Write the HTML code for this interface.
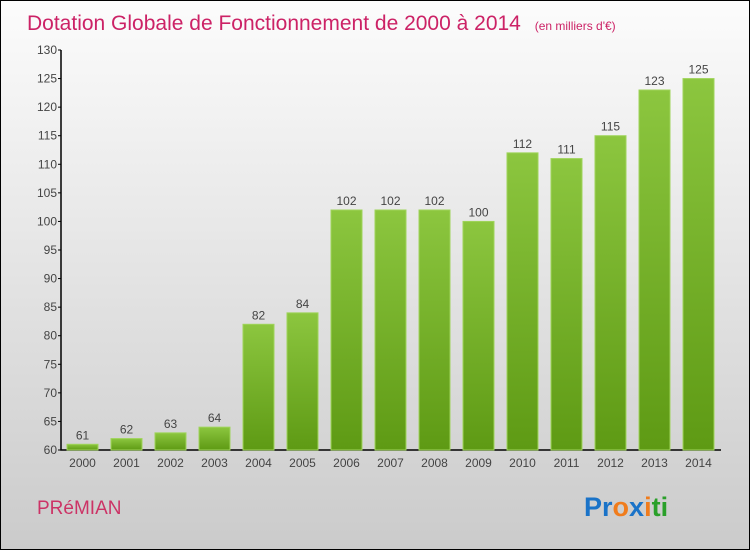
<!DOCTYPE html>
<html><head><meta charset="utf-8"><style>
body{margin:0}
#c{position:relative;width:748px;height:548px;border:1px solid #000;background:linear-gradient(#fcfcfc,#cbcbcb);font-family:"Liberation Sans",sans-serif;overflow:hidden}
</style></head><body>
<div id="c">
<svg id="s" width="748" height="548" xmlns="http://www.w3.org/2000/svg">
<defs>
<linearGradient id="g" x1="0" y1="0" x2="0" y2="1"><stop offset="0" stop-color="#8cc63f"/><stop offset="1" stop-color="#5e9a14"/></linearGradient>
</defs>
<text x="26" y="29" font-size="21" fill="#cc2266">Dotation Globale de Fonctionnement de 2000 à 2014 <tspan font-size="12" dx="8">(en milliers d'€)</tspan></text>
<g id="plot"></g>
<text x="36" y="513" font-size="19" fill="#cc3366">PRéMIAN</text>
<text x="583" y="515" font-size="27" font-weight="bold"><tspan fill="#1a73c8">Pr</tspan><tspan fill="#f07c1c">o</tspan><tspan fill="#1a73c8">x</tspan><tspan fill="#f07c1c">i</tspan><tspan fill="#2aa02a">ti</tspan></text>
</svg>
</div>
<script>
const years=["2000","2001","2002","2003","2004","2005","2006","2007","2008","2009","2010","2011","2012","2013","2014"];
const values=[61,62,63,64,82,84,102,102,102,100,112,111,115,123,125];
const ticks=[60,65,70,75,80,85,90,95,100,105,110,115,120,125,130];
const NS="http://www.w3.org/2000/svg";
const g=document.getElementById('plot');
const y=v=>450-(v-60)*400/70-1;
const x=i=>66+i*44;
function mk(t,a){const e=document.createElementNS(NS,t);for(const k in a)e.setAttribute(k,a[k]);g.appendChild(e);return e;}
let ax=mk('path',{d:'M60,49V449H720',stroke:'#000','stroke-width':1.5,fill:'none'});


ticks.forEach(t=>{
 const l=mk('line',{x1:57,x2:60,y1:y(t),y2:y(t),stroke:'#000'});
 
 
 const tx=mk('text',{x:56,y:y(t)+4,'font-size':12,fill:'#444','text-anchor':'end'});
 tx.textContent=t;
 
 
});
values.forEach((v,i)=>{
 const r=mk('rect',{x:x(i),y:y(v),width:31,height:449-y(v),fill:'url(#g)',stroke:'#9fd45a','stroke-width':1});
 
 
 const vl=mk('text',{x:x(i)+15.5,y:y(v)-5,'font-size':12,fill:'#444','text-anchor':'middle'});
 vl.textContent=v;
 
 
 const xl=mk('text',{x:x(i)+15.5,y:466,'font-size':12,fill:'#444','text-anchor':'middle'});
 xl.textContent=years[i];
 
 
});
</script>
</body></html>
